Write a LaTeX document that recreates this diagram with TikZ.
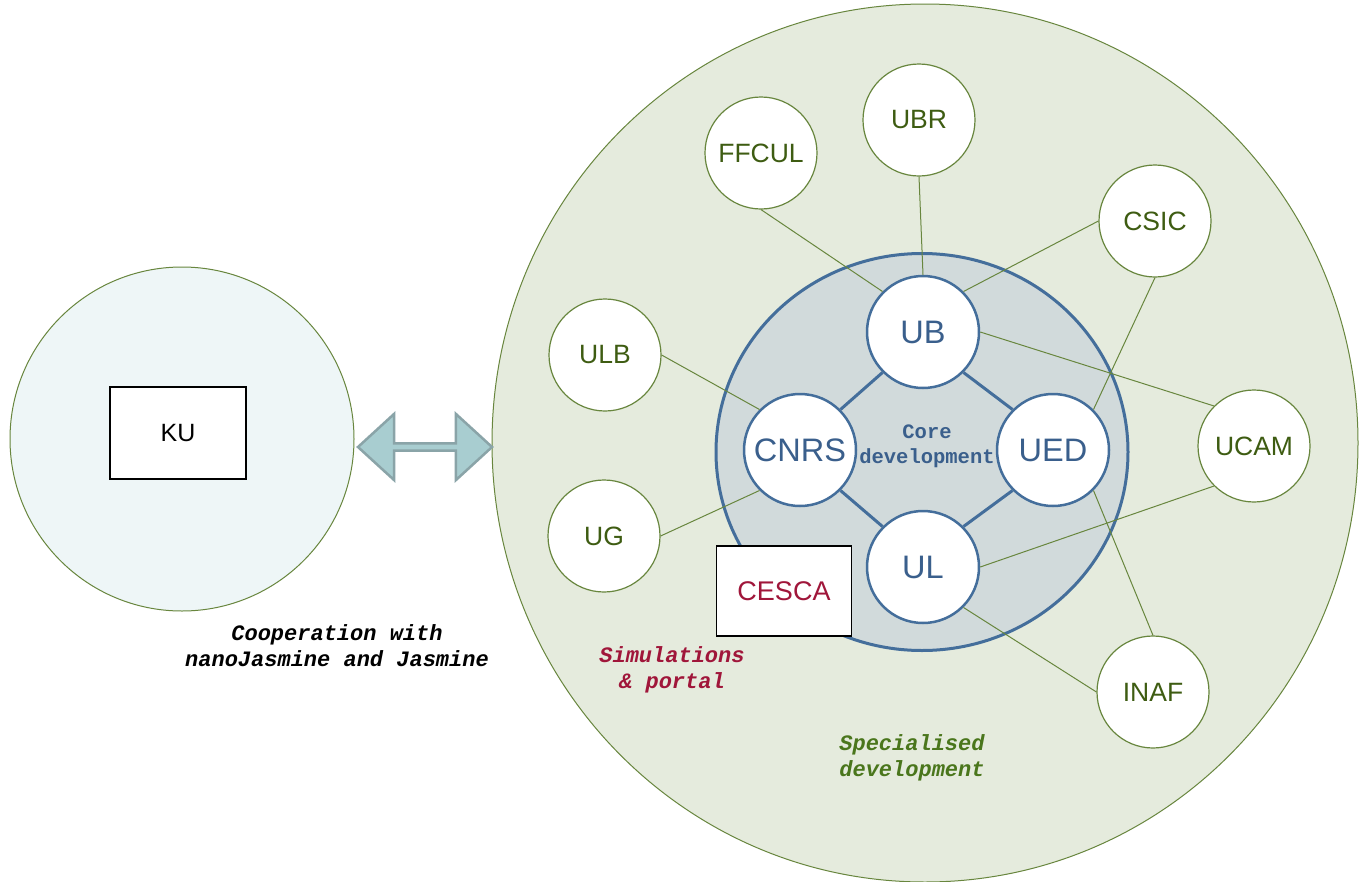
\documentclass[tikz,border=0pt]{standalone}
\usepackage{fontspec}
\setmainfont{Liberation Sans}
\newfontfamily\monofont{Liberation Mono}
\usetikzlibrary{shapes.geometric,shapes.arrows}
\definecolor{specfill}{RGB}{229,235,221}
\definecolor{kufill}{RGB}{238,246,247}
\definecolor{corefill}{RGB}{209,218,219}
\definecolor{coreblue}{RGB}{68,110,155}
\definecolor{coretext}{RGB}{58,95,140}
\definecolor{olivedraw}{RGB}{104,134,62}
\definecolor{olivetext}{RGB}{62,92,18}
\definecolor{spectext}{RGB}{74,118,28}
\definecolor{cescared}{RGB}{160,22,58}
\definecolor{arrowfill}{RGB}{168,205,208}
\definecolor{arrowdraw}{RGB}{138,164,168}
\tikzset{core node/.style={circle,fill=white,draw=coreblue,line width=2.5pt,minimum size=112pt,inner sep=0pt,text=coretext,font=\fontsize{32.5}{38}\selectfont},
            partner node/.style={circle,fill=white,draw=olivedraw,line width=1.2pt,minimum size=112pt,inner sep=0pt,text=olivetext,font=\fontsize{26.5}{30}\selectfont},
            note/.style={align=center,font=\monofont\bfseries\itshape\fontsize{22}{26}\selectfont},
            }

\begin{document}
\begin{tikzpicture}[x=1pt,y=-1pt]
    \useasboundingbox (0,0) rectangle (1363,881);
    \clip (0,0) rectangle (1363,881);
    \fill[white] (0,0) rectangle (1363,881);

    \node[circle,fill=kufill,draw=olivedraw,line width=1pt,minimum size=344pt] (coop) at (182,439) {};
    \node[ellipse,fill=specfill,draw=olivedraw,line width=1pt,minimum width=866pt,minimum height=878pt] (spec) at (925,443) {};
    \node[ellipse,fill=corefill,draw=coreblue,line width=3pt,minimum width=412pt,minimum height=397pt] (core) at (922,452) {};
    \node[double arrow,fill=arrowfill,draw=arrowdraw,line width=2.5pt,minimum width=66pt,minimum height=134pt,
          double arrow head extend=10pt,double arrow tip angle=85,inner sep=0pt] (link) at (425,447) {};

    \node[draw=black,line width=2pt,fill=white,minimum width=136pt,minimum height=92pt,font=\fontsize{25}{30}\selectfont] (ku) at (178,433) {KU};
    \node[draw=black,line width=1.3pt,fill=white,minimum width=135pt,minimum height=90pt,text=cescared,font=\fontsize{27}{32}\selectfont] (cesca) at (784,591) {CESCA};

    \node[core node] (ub) at (923,332) {UB};
    \node[core node] (cnrs) at (800,450) {CNRS};
    \node[core node] (ued) at (1053,450) {UED};
    \node[core node] (ul) at (923,567) {UL};

    \node[partner node] (ffcul) at (761,153) {FFCUL};
    \node[partner node] (ubr) at (919,120) {UBR};
    \node[partner node] (csic) at (1155,221) {CSIC};
    \node[partner node] (ulb) at (605,355) {ULB};
    \node[partner node] (ug) at (604,536) {UG};
    \node[partner node] (ucam) at (1254,446) {UCAM};
    \node[partner node] (inaf) at (1153,692) {INAF};

    \node[note] (cooptext) at (337,646) {Cooperation with\\nanoJasmine and Jasmine};
    \node[note,text=cescared] (simtext) at (672,670) {Simulations\\\& portal};
    \node[note,text=spectext] (spectext) at (912,758) {Specialised\\development};
    \node[align=center,text=coretext,font=\monofont\bfseries\fontsize{20.5}{25}\selectfont] (coretext) at (927,446) {Core\\development};

    \path[draw,olivedraw,line width=1pt]
    (ffcul.south) edge (ub.135)
    (ubr.south) edge (ub.north)
    (csic.west) edge (ub.45)
    (csic.south) edge (ued.45)
    (ulb.east) edge (cnrs.135)
    (ug.east) edge (cnrs.225)
    (ub.east) edge (ucam.135)
    (ul.east) edge (ucam.225)
    (ued.-45) edge (inaf.north)
    (ul.-45) edge (inaf.west)
    ;
    \path[draw,coreblue,line width=3pt]
    (ub.225) edge (cnrs.45)
    (ub.-45) edge (ued.135)
    (cnrs.-45) edge (ul.135)
    (ued.225) edge (ul.45)
    ;
\end{tikzpicture}
\end{document}
